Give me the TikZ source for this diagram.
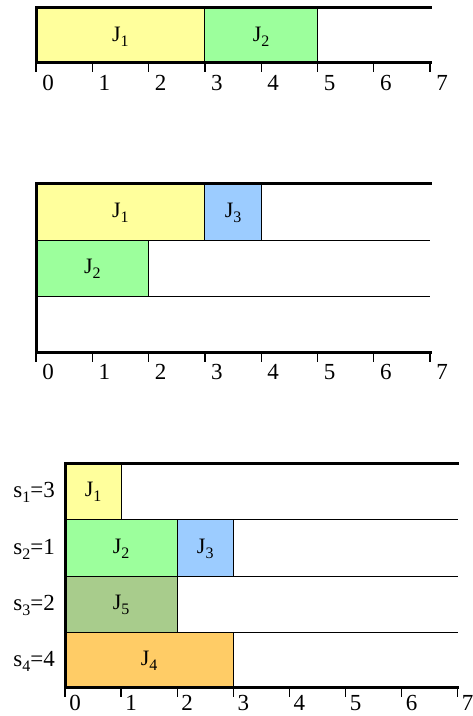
\documentclass[tikz,border=0pt]{standalone}
\usepackage{fontspec}
\setmainfont{Liberation Serif}
\definecolor{cyel}{HTML}{FFFF9C}
\definecolor{cgrn}{HTML}{9CFF9C}
\definecolor{cblu}{HTML}{9CCCFF}
\definecolor{colv}{HTML}{A8CC8C}
\definecolor{corg}{HTML}{FFCC66}
\newcommand\jsb[1]{\raisebox{-5pt}{\fontsize{16}{16}\selectfont #1}}
\newcommand\jlab[1]{J\jsb{#1}}
\tikzset{
  thickln/.style={line width=3pt, line cap=rect},
  thinln/.style={line width=1pt},
  tickln/.style={line width=1.3pt},
  jtext/.style={font=\fontsize{22}{22}\selectfont, inner sep=0pt},
  numtext/.style={font=\fontsize{23}{23}\selectfont, inner sep=0pt},
  stext/.style={font=\fontsize{23}{23}\selectfont, inner sep=0pt, anchor=east},
}
\begin{document}
\begin{tikzpicture}[x=1pt,y=-1pt]
\useasboundingbox (0,0) rectangle (473,716);
% ---------- Chart 1 ----------
\def\xo{36}\def\u{56.3}
\fill[cyel] (\xo,7) rectangle ({\xo+3*\u},62);
\fill[cgrn] ({\xo+3*\u},7) rectangle ({\xo+5*\u},62);
\draw[thinln] ({\xo+3*\u},7) -- ({\xo+3*\u},62);
\draw[thinln] ({\xo+5*\u},7) -- ({\xo+5*\u},62);
\node[jtext] (a1) at ({\xo+1.5*\u},37) {\jlab{1}};
\node[jtext] (a2) at ({\xo+4*\u},37) {\jlab{2}};
\draw[thickln] (\xo,7) -- ({\xo+7*\u},7);
\draw[thickln] (\xo,62) -- ({\xo+7*\u},62);
\draw[thickln] (\xo,7) -- (\xo,62);
\foreach \i in {0,...,7}{
  \draw[tickln] ({\xo+\i*\u},62) -- ({\xo+\i*\u},72);
  \node[numtext] (a-n\i) at ({\xo+\i*\u+12},83) {\i};
}
% ---------- Chart 2 ----------
\def\xo{36}\def\u{56.3}
\fill[cyel] (\xo,183) rectangle ({\xo+3*\u},240);
\fill[cblu] ({\xo+3*\u},183) rectangle ({\xo+4*\u},240);
\fill[cgrn] (\xo,240) rectangle ({\xo+2*\u},296);
\draw[thinln] ({\xo+3*\u},183) -- ({\xo+3*\u},240);
\draw[thinln] ({\xo+4*\u},183) -- ({\xo+4*\u},240);
\draw[thinln] ({\xo+2*\u},240) -- ({\xo+2*\u},296);
\draw[thinln] (\xo,240) -- ({\xo+7*\u},240);
\draw[thinln] (\xo,296) -- ({\xo+7*\u},296);
\node[jtext] (b1) at ({\xo+1.5*\u},213) {\jlab{1}};
\node[jtext] (b3) at ({\xo+3.5*\u},213) {\jlab{3}};
\node[jtext] (b2) at ({\xo+1*\u},269) {\jlab{2}};
\draw[thickln] (\xo,183) -- ({\xo+7*\u},183);
\draw[thickln] (\xo,352) -- ({\xo+7*\u},352);
\draw[thickln] (\xo,183) -- (\xo,352);
\foreach \i in {0,...,7}{
  \draw[tickln] ({\xo+\i*\u},352) -- ({\xo+\i*\u},362);
  \node[numtext] (b-n\i) at ({\xo+\i*\u+12},372) {\i};
}
% ---------- Chart 3 ----------
\def\xo{65}\def\u{56.1}
\fill[cyel] (\xo,463) rectangle ({\xo+1*\u},519);
\fill[cgrn] (\xo,519) rectangle ({\xo+2*\u},576);
\fill[cblu] ({\xo+2*\u},519) rectangle ({\xo+3*\u},576);
\fill[colv] (\xo,576) rectangle ({\xo+2*\u},632);
\fill[corg] (\xo,632) rectangle ({\xo+3*\u},687);
\draw[thinln] ({\xo+1*\u},463) -- ({\xo+1*\u},519);
\draw[thinln] ({\xo+2*\u},519) -- ({\xo+2*\u},632);
\draw[thinln] ({\xo+3*\u},519) -- ({\xo+3*\u},576);
\draw[thinln] ({\xo+3*\u},632) -- ({\xo+3*\u},687);
\draw[thinln] (\xo,519) -- ({\xo+7*\u},519);
\draw[thinln] (\xo,576) -- ({\xo+7*\u},576);
\draw[thinln] (\xo,632) -- ({\xo+7*\u},632);
\node[jtext] (c1) at ({\xo+0.5*\u},492) {\jlab{1}};
\node[jtext] (c2) at ({\xo+1*\u},549) {\jlab{2}};
\node[jtext] (c3) at ({\xo+2.5*\u},549) {\jlab{3}};
\node[jtext] (c5) at ({\xo+1*\u},605) {\jlab{5}};
\node[jtext] (c4) at ({\xo+1.5*\u},661) {\jlab{4}};
\node[stext] (s1) at (55,492) {s\jsb{1}=3};
\node[stext] (s2) at (55,549) {s\jsb{2}=1};
\node[stext] (s3) at (55,605) {s\jsb{3}=2};
\node[stext] (s4) at (55,661) {s\jsb{4}=4};
\draw[thickln] (\xo,463) -- ({\xo+7*\u},463);
\draw[thickln] (\xo,687) -- ({\xo+7*\u},687);
\draw[thickln] (\xo,463) -- (\xo,687);
\foreach \i in {0,...,7}{
  \draw[tickln] ({\xo+\i*\u},687) -- ({\xo+\i*\u},697);
  \node[numtext] (c-n\i) at ({\xo+\i*\u+10},703) {\i};
}
\end{tikzpicture}
\end{document}
